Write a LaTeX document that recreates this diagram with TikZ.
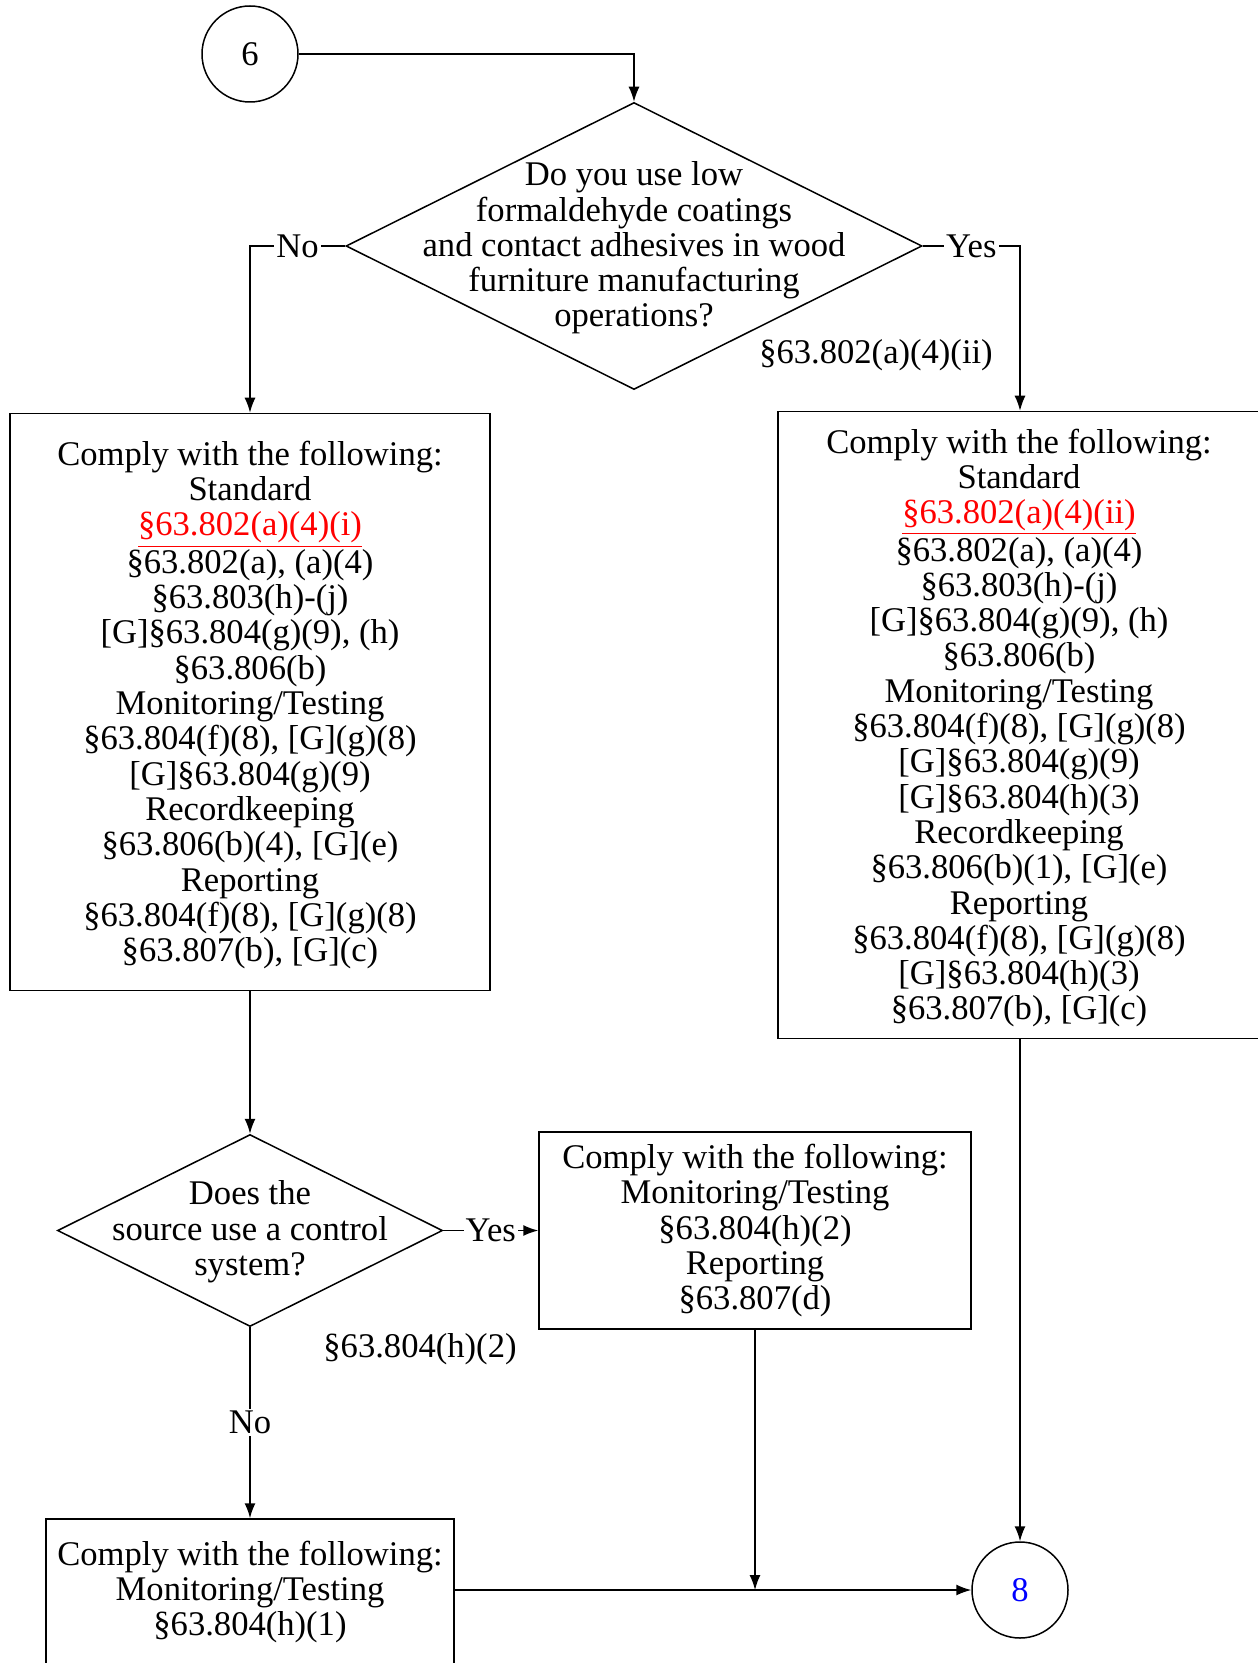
\documentclass[tikz,border=0pt]{standalone}
\usepackage{fontspec}
\setmainfont{Liberation Serif}
\usetikzlibrary{shapes.geometric,arrows.meta}

\begin{document}
\begin{tikzpicture}[x=0.5pt,y=-0.5pt,line width=0.75pt,font=\fontsize{17.3}{17.65}\selectfont]
            \tikzstyle{rond}=[circle,draw,minimum size=48pt,inner sep=0pt]
            \tikzstyle{losange}=[diamond,draw,inner sep=0pt]
            \tikzstyle{boite}=[rectangle,draw,align=center,inner sep=0pt]
            \tikzstyle{texte}=[align=center,inner sep=0pt]
            \tikzstyle{fleche}=[-{Latex[length=7.5pt,width=5.5pt]}]
            \tikzstyle{etiquette}=[fill=white,inner sep=1pt]
            \useasboundingbox (0,0) rectangle (1257,1663);
            \node[rond] (6) at (250,54) {6};
            \node[losange,minimum width=288pt,minimum height=143.5pt] (d1) at (634,246) {};
            \node[texte] (t1) at (634,248) {Do you use low\\formaldehyde coatings\\and contact adhesives in wood\\furniture manufacturing\\operations?};
            \node (r1) at (876,355) {§63.802(a)(4)(ii)};
            \node[boite,minimum width=240pt,minimum height=288.5pt] (b1) at (250,702) {};
            \node[texte] (t3) at (250,705) {Comply with the following:\\Standard\\\textcolor{red}{\underline{§63.802(a)(4)(i)}}\\§63.802(a), (a)(4)\\§63.803(h)-(j)\\{}[G]§63.804(g)(9), (h)\\§63.806(b)\\Monitoring/Testing\\§63.804(f)(8), [G](g)(8)\\{}[G]§63.804(g)(9)\\Recordkeeping\\§63.806(b)(4), [G](e)\\Reporting\\§63.804(f)(8), [G](g)(8)\\§63.807(b), [G](c)};
            \node[boite,minimum width=242pt,minimum height=313.5pt] (b2) at (1020,725) {};
            \node[texte] (t4) at (1019,728) {Comply with the following:\\Standard\\\textcolor{red}{\underline{§63.802(a)(4)(ii)}}\\§63.802(a), (a)(4)\\§63.803(h)-(j)\\{}[G]§63.804(g)(9), (h)\\§63.806(b)\\Monitoring/Testing\\§63.804(f)(8), [G](g)(8)\\{}[G]§63.804(g)(9)\\{}[G]§63.804(h)(3)\\Recordkeeping\\§63.806(b)(1), [G](e)\\Reporting\\§63.804(f)(8), [G](g)(8)\\{}[G]§63.804(h)(3)\\§63.807(b), [G](c)};
            \node[losange,minimum width=192.5pt,minimum height=96pt] (d2) at (250,1230.5) {};
            \node[texte] (t2) at (250,1232) {Does the\\source use a control\\system?};
            \node (r2) at (420,1349) {§63.804(h)(2)};
            \node[boite,minimum width=216pt,minimum height=98.5pt] (b3) at (755,1230.5) {Comply with the following:\\Monitoring/Testing\\§63.804(h)(2)\\Reporting\\§63.807(d)};
            \node[boite,minimum width=204pt,minimum height=75pt] (b4) at (250,1594) {};
            \node[texte] (t5) at (250,1592) {Comply with the following:\\Monitoring/Testing\\§63.804(h)(1)};
            \node[rond,text=blue] (8) at (1020,1590) {8};
            \coordinate (s) at (b4.east |- 8.west);
            \coordinate (j) at (b3.south |- 8.west);
            \draw[fleche] (6) -| (d1.north);
            \draw[fleche] (d1.west) -| node[etiquette,pos=0.25] {No} (b1.north);
            \draw[fleche] (d1.east) -| node[etiquette,pos=0.25] {Yes} (b2.north);
            \draw[fleche] (b1.south) -- (d2.north);
            \draw[fleche] (d2.east) -- node[etiquette] {Yes} (b3.west);
            \draw[fleche] (d2.south) -- node[etiquette] {No} (b4.north);
            \draw[fleche] (b3.south) -- (j);
            \draw[fleche] (s) -- (8.west);
            \draw[fleche] (b2.south) -- (8.north);
        \end{tikzpicture}
\end{document}
